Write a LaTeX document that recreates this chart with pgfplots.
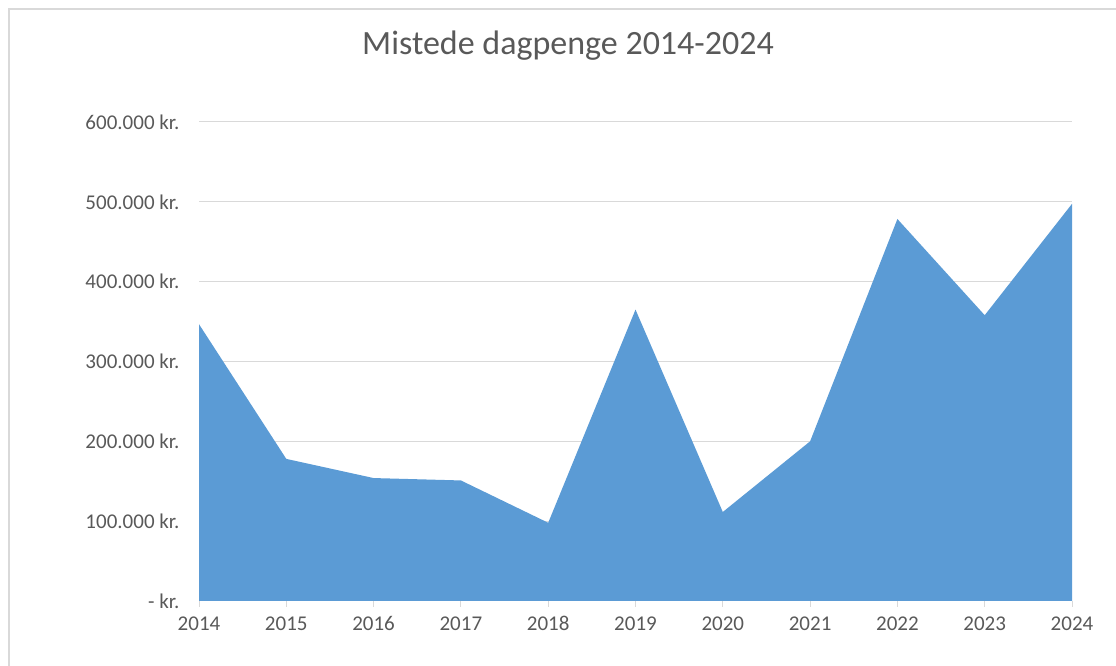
\documentclass[border=0pt]{standalone}
\usepackage{pgfplots}
\pgfplotsset{compat=1.18}
\usepackage{fontspec}
\setmainfont{Carlito}
\definecolor{areablue}{HTML}{5B9BD5}
\definecolor{txtgray}{HTML}{595959}
\definecolor{gridgray}{HTML}{D9D9D9}
\definecolor{bordergray}{HTML}{D9D9D9}
\begin{document}
\begin{tikzpicture}[x=1pt,y=1pt]
\path[use as bounding box] (0,0) rectangle (1116,666);
\draw[bordergray, line width=1.2pt] (9,0) -- (9,657) -- (1116,657);
\begin{axis}[
  at={(199pt,65pt)}, anchor=origin,
  width=873pt, height=479pt, scale only axis,
  xmin=2014, xmax=2024, ymin=0, ymax=600000,
  scaled y ticks=false, scaled x ticks=false,
  xtick={2014,2015,...,2024},
  xticklabels={2014,2015,2016,2017,2018,2019,2020,2021,2022,2023,2024},
  ytick={0,100000,200000,300000,400000,500000,600000},
  yticklabels={- kr.,100.000 kr.,200.000 kr.,300.000 kr.,400.000 kr.,500.000 kr.,600.000 kr.},
  axis x line*=bottom, axis y line*=left,
  y axis line style={draw=none},
  x axis line style={draw=gridgray, line width=1pt, -},
  xtick align=outside,
  major tick length=6pt,
  xtick style={draw=gridgray, line width=1pt},
  ytick style={draw=none},
  ymajorgrids, grid style={draw=gridgray, line width=1pt},
  /pgf/number format/assume math mode=true,
  xticklabel style={font=\fontsize{21}{25}\selectfont, text=txtgray, yshift=-6pt},
  yticklabel style={font=\fontsize{21}{25}\selectfont, text=txtgray, xshift=-16pt},
  title={Mistede dagpenge 2014-2024},
  title style={font=\fontsize{34}{40}\selectfont, text=txtgray, at={(0.4227,1.1294)}, anchor=base},
  clip=false, axis on top=false,
]
\addplot[fill=areablue, draw=none] coordinates {
(2014,346700) (2015,178000) (2016,154000) (2017,151000) (2018,98000)
(2019,365000) (2020,111500) (2021,200000) (2022,478500) (2023,358000) (2024,497500)
} \closedcycle;
\end{axis}
\end{tikzpicture}
\end{document}
